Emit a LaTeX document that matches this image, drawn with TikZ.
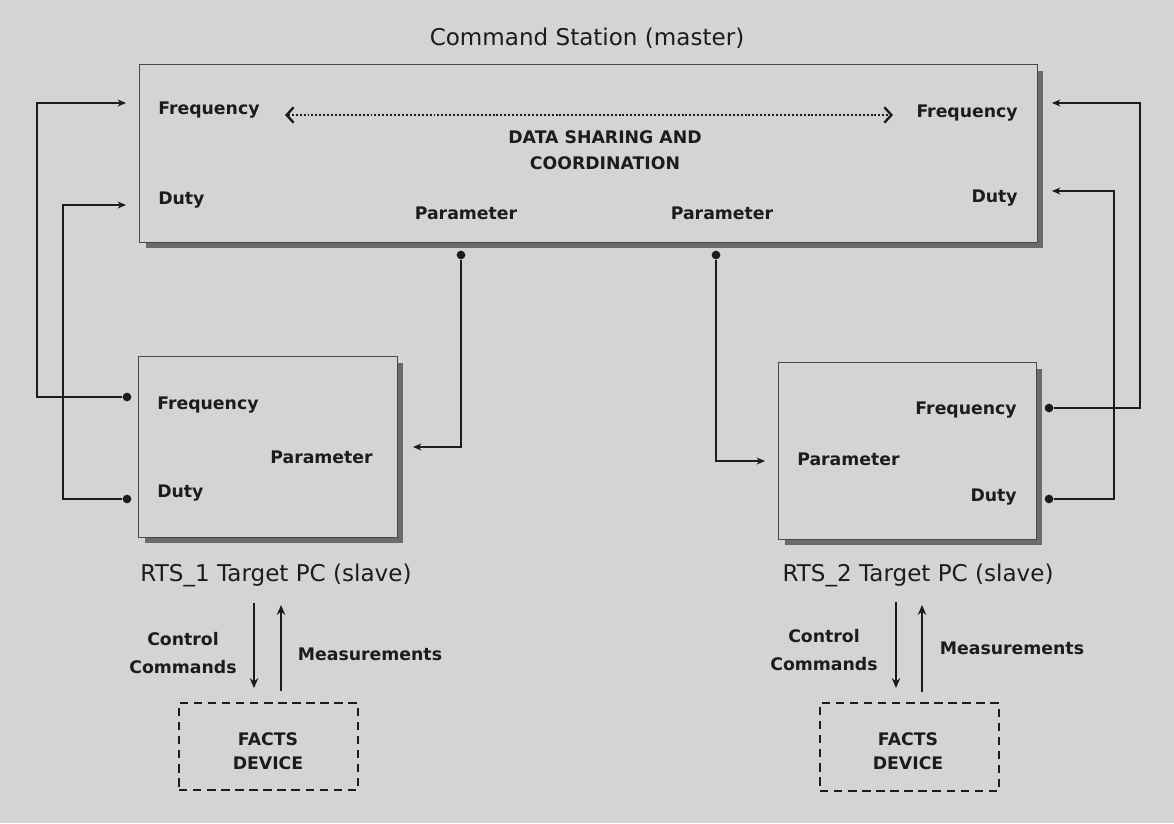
\documentclass[tikz,border=0pt]{standalone}
\usepackage{fontspec}
\setmainfont{DejaVu Sans}
\usetikzlibrary{arrows.meta,shadows}
\definecolor{bg}{RGB}{212,212,212}
\definecolor{ink}{RGB}{28,28,28}
\begin{document}
\begin{tikzpicture}[x=0.025cm,y=-0.025cm,
  panel/.style={draw=ink!80, line width=0.7pt, fill=bg, inner sep=0pt,
    drop shadow={shadow xshift=4.2pt, shadow yshift=-4.2pt, fill=black!58, opacity=1}},
  lbl/.style={font=\bfseries\fontsize{12.3}{15}\selectfont, text=ink, inner sep=0pt},
  caption/.style={font=\fontsize{16.4}{19}\selectfont, text=ink, inner sep=0pt},
  wire/.style={draw=ink, line width=0.75pt},
  into/.style={wire, -{Stealth[length=6pt,width=5pt]}},
  tap/.style={circle, fill=ink, inner sep=0pt, minimum size=6.2pt},
  io/.style={draw=ink, line width=1.7pt, -{Stealth[length=7pt,width=6pt]}},
  factsbox/.style={draw=ink, line width=1.5pt, dash pattern=on 6pt off 4pt,
    fill=bg, inner sep=0pt, minimum width=4.475cm, minimum height=2.175cm}
]
% canvas
\fill[bg] (0,0) rectangle (1174,823);
\useasboundingbox (0,0) rectangle (1174,823);

% ---- command station ----
\node[caption] (mtitle) at (587,38) {Command Station (master)};
\node[panel, minimum width=22.425cm, minimum height=4.425cm] (master) at (588.5,153.5) {};
\node[lbl, anchor=west] (mfreqL) at (158,110) {Frequency};
\node[lbl, anchor=west] (mdutyL) at (158,200) {Duty};
\node[lbl, anchor=east] (mfreqR) at (1018,113) {Frequency};
\node[lbl, anchor=east] (mdutyR) at (1018,198) {Duty};
\node[lbl, align=center, font=\bfseries\fontsize{12.3}{18.5}\selectfont] (share) at (605,150) {DATA SHARING AND\\COORDINATION};
\node[lbl] (mpar1) at (466,213) {Parameter};
\node[lbl] (mpar2) at (722,213) {Parameter};
\coordinate (dsl) at (285,115);
\coordinate (dsr) at (893,115);
\draw[ink, line width=1.3pt, dash pattern=on 1.4pt off 1.4pt,
  {Straight Barb[length=5pt,width=11pt,line width=1.7pt]}-{Straight Barb[length=5pt,width=11pt,line width=1.7pt]}]
  (dsl) -- (dsr);

% ---- RTS_1 target ----
\node[panel, minimum width=6.45cm, minimum height=4.5cm] (rts1) at (268,447) {};
\node[lbl, anchor=west] (afreq) at (157,405) {Frequency};
\node[lbl, anchor=east] (apar) at (373,457) {Parameter};
\node[lbl, anchor=west] (aduty) at (157,493) {Duty};
\node[caption] (rts1cap) at (276,575) {RTS\_1 Target PC (slave)};

% ---- RTS_2 target ----
\node[panel, minimum width=6.425cm, minimum height=4.4cm] (rts2) at (907.5,451) {};
\node[lbl, anchor=east] (bfreq) at (1017,410) {Frequency};
\node[lbl, anchor=west] (bpar) at (797,459) {Parameter};
\node[lbl, anchor=east] (bduty) at (1017,497) {Duty};
\node[caption] (rts2cap) at (918,575) {RTS\_2 Target PC (slave)};

% ---- taps and pins ----
\node[tap] (afdot) at (127,397) {};
\node[tap] (addot) at (127,499) {};
\node[tap] (bfdot) at (1049,408) {};
\node[tap] (bddot) at (1049,499) {};
\node[tap] (p1dot) at (461,255) {};
\node[tap] (p2dot) at (716,255) {};
\coordinate (mfl) at (126,103);
\coordinate (mdl) at (126,205);
\coordinate (mfr) at (1052,103);
\coordinate (mdr) at (1052,191);
\coordinate (apin) at (413,447);
\coordinate (bpin) at (765,461);
\coordinate (laneA) at (37,0);
\coordinate (laneB) at (63,0);
\coordinate (laneC) at (1114,0);
\coordinate (laneD) at (1140,0);

% ---- frequency / duty loops ----
\draw[into] (afdot) -- (afdot -| laneA) |- (mfl);
\draw[into] (addot) -- (addot -| laneB) |- (mdl);
\draw[into] (bfdot) -- (bfdot -| laneD) |- (mfr);
\draw[into] (bddot) -- (bddot -| laneC) |- (mdr);

% ---- parameter feeds ----
\draw[into] (p1dot) |- (apin);
\draw[into] (p2dot) |- (bpin);

% ---- FACTS devices ----
\node[factsbox] (facts1) at (268.5,746.5) {};
\node[lbl, align=center, font=\bfseries\fontsize{12.3}{17}\selectfont] at (268,751) {FACTS\\DEVICE};
\node[factsbox, minimum height=2.2cm] (facts2) at (909.5,747) {};
\node[lbl, align=center, font=\bfseries\fontsize{12.3}{17}\selectfont] at (908,751) {FACTS\\DEVICE};

\coordinate (c1a) at (254,603); \coordinate (c1b) at (254,688);
\coordinate (m1a) at (281,691); \coordinate (m1b) at (281,605);
\coordinate (c2a) at (896,602); \coordinate (c2b) at (896,688);
\coordinate (m2a) at (922,692); \coordinate (m2b) at (922,605);
\draw[io] (c1a) -- (c1b);
\draw[io] (m1a) -- (m1b);
\draw[io] (c2a) -- (c2b);
\draw[io] (m2a) -- (m2b);

\node[lbl, align=center, font=\bfseries\fontsize{12.3}{20}\selectfont] (cc1) at (183,653) {Control\\Commands};
\node[lbl] (ms1) at (370,654) {Measurements};
\node[lbl, align=center, font=\bfseries\fontsize{12.3}{20}\selectfont] (cc2) at (824,650) {Control\\Commands};
\node[lbl] (ms2) at (1012,648) {Measurements};
\end{tikzpicture}
\end{document}
